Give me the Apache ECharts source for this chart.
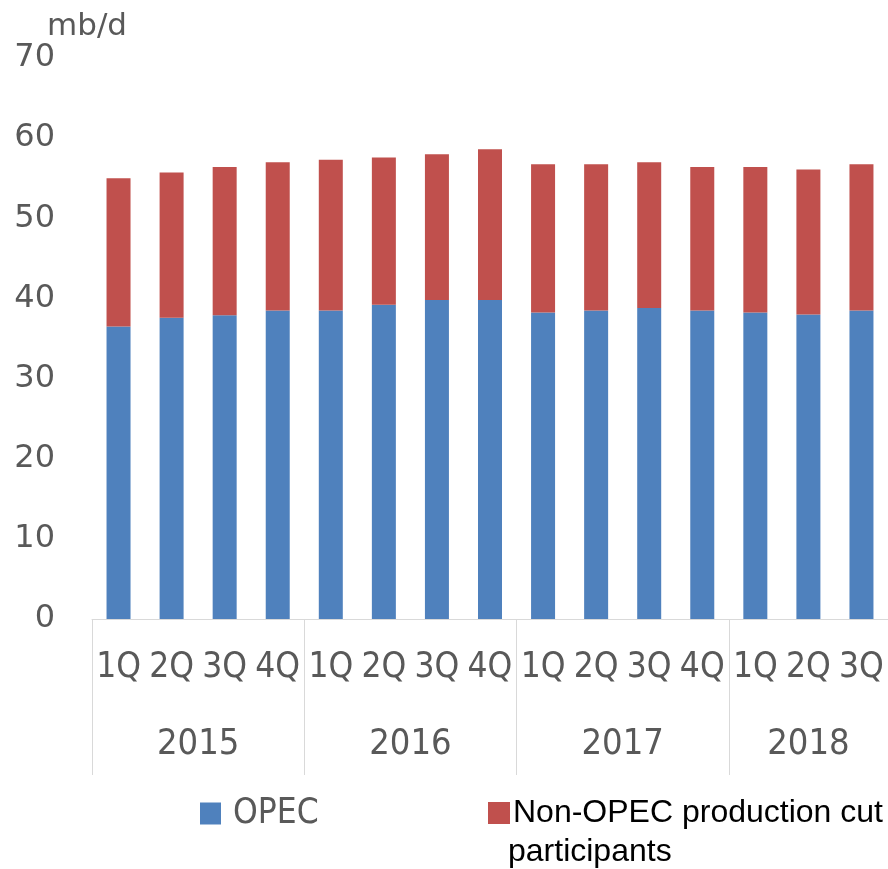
<!DOCTYPE html>
<html><head><meta charset="utf-8">
<script src="https://cdn.jsdelivr.net/npm/echarts@6/dist/echarts.min.js"></script>
<style>html,body{margin:0;padding:0;background:#fff}#c{width:888px;height:869px}</style>
</head><body><div id="c"></div>
<script>
const quarters = ['1Q','2Q','3Q','4Q','1Q','2Q','3Q','4Q','1Q','2Q','3Q','4Q','1Q','2Q','3Q'];
const years = ['2015','2016','2017','2018'];
const quartersPerYear = [4,4,4,3];
const opec = [36.5,37.6,37.9,38.5,38.5,39.2,39.8,39.8,38.25,38.5,38.8,38.5,38.25,38.0,38.5];
const nonOpec = [18.5,18.1,18.5,18.5,18.8,18.4,18.2,18.8,18.5,18.25,18.2,17.9,18.15,18.1,18.25];
const yTicks = [0,10,20,30,40,50,60,70];
const unitLabel = 'mb/d';
const seriesNames = ['OPEC','Non-OPEC production cut participants'];
const legendLines = ['Non-OPEC production cut','participants'];

const yearStarts = []; const yearCenters = [];
let acc = 0;
quartersPerYear.forEach(n => { yearStarts.push(acc); yearCenters.push(acc + n/2); acc += n; });
yearStarts.push(acc);

const chart = echarts.init(document.getElementById('c'), null, {renderer:'canvas'});
const grey = '#595959';
chart.setOption({
  animation:false,
  title:{text:unitLabel,left:42,top:6,textStyle:{fontFamily:'DejaVu Sans',fontSize:31,fontWeight:'normal',color:grey}},
  grid:{left:92,top:58,width:799,height:561,containLabel:false},
  legend:[
    {data:[seriesNames[0]],left:195,top:791,icon:'rect',itemWidth:21,itemHeight:22,itemGap:10,
     textStyle:{fontFamily:'DejaVu Sans Condensed',fontSize:35,color:grey,padding:[0,0,0,7]}},
    {data:[seriesNames[1]],left:483,top:792,icon:'rect',itemWidth:22,itemHeight:22,itemGap:10,
     formatter:()=> legendLines[0],
     textStyle:{fontFamily:'Liberation Sans',fontSize:32,color:'#000',padding:[0,0,0,-2]}}
  ],
  graphic:[{type:'text',left:508,top:836,style:{text:legendLines[1],font:'32px "Liberation Sans"',fill:'#000'}}],
  xAxis:[
    {type:'category',data:quarters,gridIndex:0,position:'bottom',
     axisLine:{show:true,lineStyle:{color:'#d9d9d9',width:1}},axisTick:{show:false},
     axisLabel:{interval:0,margin:31,fontFamily:'DejaVu Sans Condensed',fontSize:35,color:grey}},
    {type:'value',min:0,max:quarters.length,gridIndex:0,position:'bottom',
     axisLine:{show:false},splitLine:{show:false},
     axisTick:{show:true,customValues:yearStarts,length:156,lineStyle:{color:'#d9d9d9',width:1}},
     axisLabel:{customValues:yearCenters,margin:108,fontFamily:'DejaVu Sans Condensed',fontSize:36,color:grey,
       formatter:(v)=>{const i=yearCenters.indexOf(v);return i>=0?years[i]:'';}}}
  ],
  yAxis:{type:'value',min:yTicks[0],max:yTicks[yTicks.length-1],interval:10,
    axisLine:{show:false},axisTick:{show:false},splitLine:{show:false},
    axisLabel:{margin:37,fontFamily:'DejaVu Sans',fontSize:32,color:grey,padding:[5,0,0,0]}},
  series:[
    {name:seriesNames[0],type:'bar',stack:'t',data:opec,barWidth:24,itemStyle:{color:'#4F81BD'},xAxisIndex:0},
    {name:seriesNames[1],type:'bar',stack:'t',data:nonOpec,barWidth:24,itemStyle:{color:'#C0504D'},xAxisIndex:0}
  ]
});
</script></body></html>
